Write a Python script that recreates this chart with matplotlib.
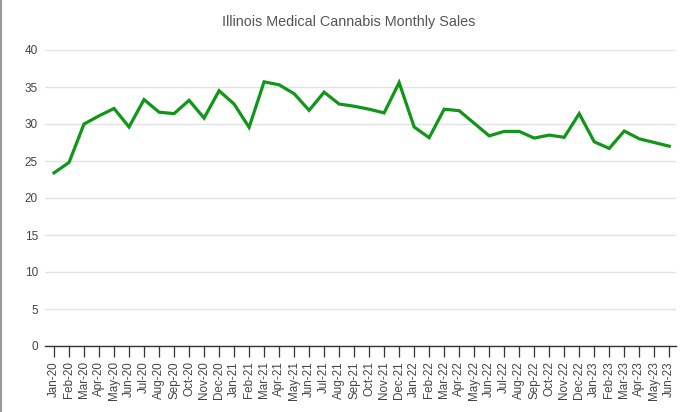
import matplotlib
matplotlib.use('Agg')
import matplotlib.pyplot as plt
from matplotlib.lines import Line2D

plt.rcParams['font.family'] = ['Liberation Sans', 'DejaVu Sans']

months = ['Jan', 'Feb', 'Mar', 'Apr', 'May', 'Jun', 'Jul', 'Aug', 'Sep', 'Oct', 'Nov', 'Dec']
labels = [f'{m}-{y}' for y in ['20', '21', '22'] for m in months] + [f'{m}-23' for m in months[:6]]

sales = [23.4, 24.8, 30.0, 31.1, 32.1, 29.6, 33.3, 31.6, 31.4, 33.2, 30.8, 34.5,
         32.7, 29.55, 35.7, 35.3, 34.1, 31.85, 34.3, 32.7, 32.4, 32.0, 31.5, 35.6,
         29.6, 28.15, 32.0, 31.8, 30.1, 28.4, 29.0, 29.0, 28.1, 28.5, 28.2, 31.4,
         27.6, 26.7, 29.05, 28.0, 27.5, 27.0]
yticks = [0, 5, 10, 15, 20, 25, 30, 35, 40]

W, H = 693, 412
fig = plt.figure(figsize=(W / 100, H / 100), dpi=100)
ax = fig.add_axes([45 / W, (H - 346) / H, (676 - 45) / W, (346 - 50) / H])

x = list(range(len(sales)))
ax.plot(x, sales, color='#109618', linewidth=2.3, solid_joinstyle='miter', clip_on=False, zorder=3)

ax.set_xlim(-0.6, len(sales) - 1 + 0.45)
ax.set_ylim(0, 40)
ax.set_yticks(yticks)
ax.set_yticklabels([str(v) for v in yticks])
ax.set_xticks(x)
ax.set_xticklabels(labels, rotation=90)

for s in ['top', 'right', 'left']:
    ax.spines[s].set_visible(False)
ax.spines['bottom'].set_color('#333333')
ax.spines['bottom'].set_linewidth(1.0)

ax.grid(axis='y', color='#e3e3e3', linewidth=1.0)
ax.set_axisbelow(True)
ax.tick_params(axis='y', length=0, pad=5, labelsize=8.5, labelcolor='#444444')
ax.tick_params(axis='x', length=8, width=0.9, color='#333333', pad=3,
               labelsize=8.4, labelcolor='#444444')

fig.text(349 / W, 1 - 22 / H, 'Illinois Medical Cannabis Monthly Sales',
         ha='center', va='center', fontsize=10.4, color='#555555')

fig.add_artist(Line2D([1 / W, 1 / W], [0, 1], color='#999999', linewidth=1.5,
                      transform=fig.transFigure))

fig.savefig('out.png', dpi=100)
